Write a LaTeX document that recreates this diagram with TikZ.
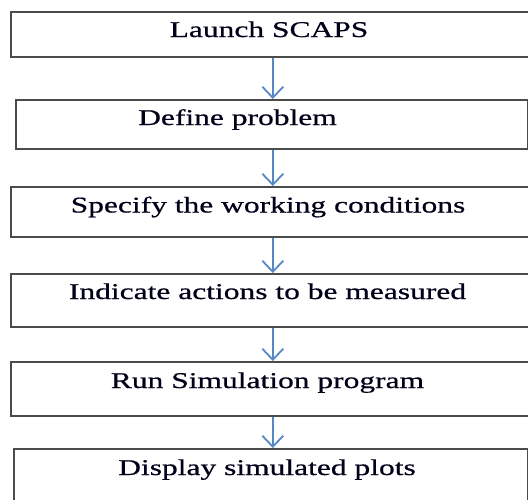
\documentclass[tikz,border=0pt]{standalone}
\usepackage{fontspec}
\setmainfont{Liberation Serif}[FakeStretch=1.4, FakeBold=0.6]
\usetikzlibrary{arrows.meta}
\definecolor{flowblue}{RGB}{86,136,198}
\definecolor{frame}{RGB}{75,75,75}
\tikzset{
  stepbox/.style={draw=frame, line width=1.6pt, fill=white, rectangle,
    anchor=north west, inner sep=0pt},
  steptext/.style={anchor=base, inner sep=0pt, text=black!90!blue,
    font=\fontsize{22.5}{26}\selectfont},
  flow/.style={draw=flowblue, line width=1.8pt,
    -{Straight Barb[length=11pt, width=21pt, line width=1.8pt]}}
}
\begin{document}
\begin{tikzpicture}[x=1pt, y=-1pt]
  \clip (0,0) rectangle (528,499);
  \fill[white] (0,0) rectangle (528,499);

  % process boxes
  \node[stepbox, minimum width=524pt, minimum height=45pt] (b1) at (10,11) {};
  \node[stepbox, minimum width=512pt, minimum height=49pt] (b2) at (15,99) {};
  \node[stepbox, minimum width=524pt, minimum height=50pt] (b3) at (10,186) {};
  \node[stepbox, minimum width=524pt, minimum height=53pt] (b4) at (10,273) {};
  \node[stepbox, minimum width=524pt, minimum height=54pt] (b5) at (10,361) {};
  \node[stepbox, minimum width=514pt, minimum height=60pt] (b6) at (13,448) {};

  % labels
  \node[steptext] (t1) at (269,37) {Launch SCAPS};
  \node[steptext] (t2) at (237.5,125) {Define problem};
  \node[steptext] (t3) at (268,212.5) {Specify the working conditions};
  \node[steptext] (t4) at (267.5,299) {Indicate actions to be measured};
  \node[steptext] (t5) at (267.5,388) {Run Simulation program};
  \node[steptext] (t6) at (267,475) {Display simulated plots};

  % connectors
  \draw[flow] (b1.south) -- (b1.south |- b2.north);
  \draw[flow] (b2.south -| b1.south) -- (b1.south |- b3.north);
  \draw[flow] (b3.south) -- (b3.south |- b4.north);
  \draw[flow] (b4.south) -- (b4.south |- b5.north);
  \draw[flow] (b5.south) -- (b5.south |- b6.north);
\end{tikzpicture}
\end{document}
